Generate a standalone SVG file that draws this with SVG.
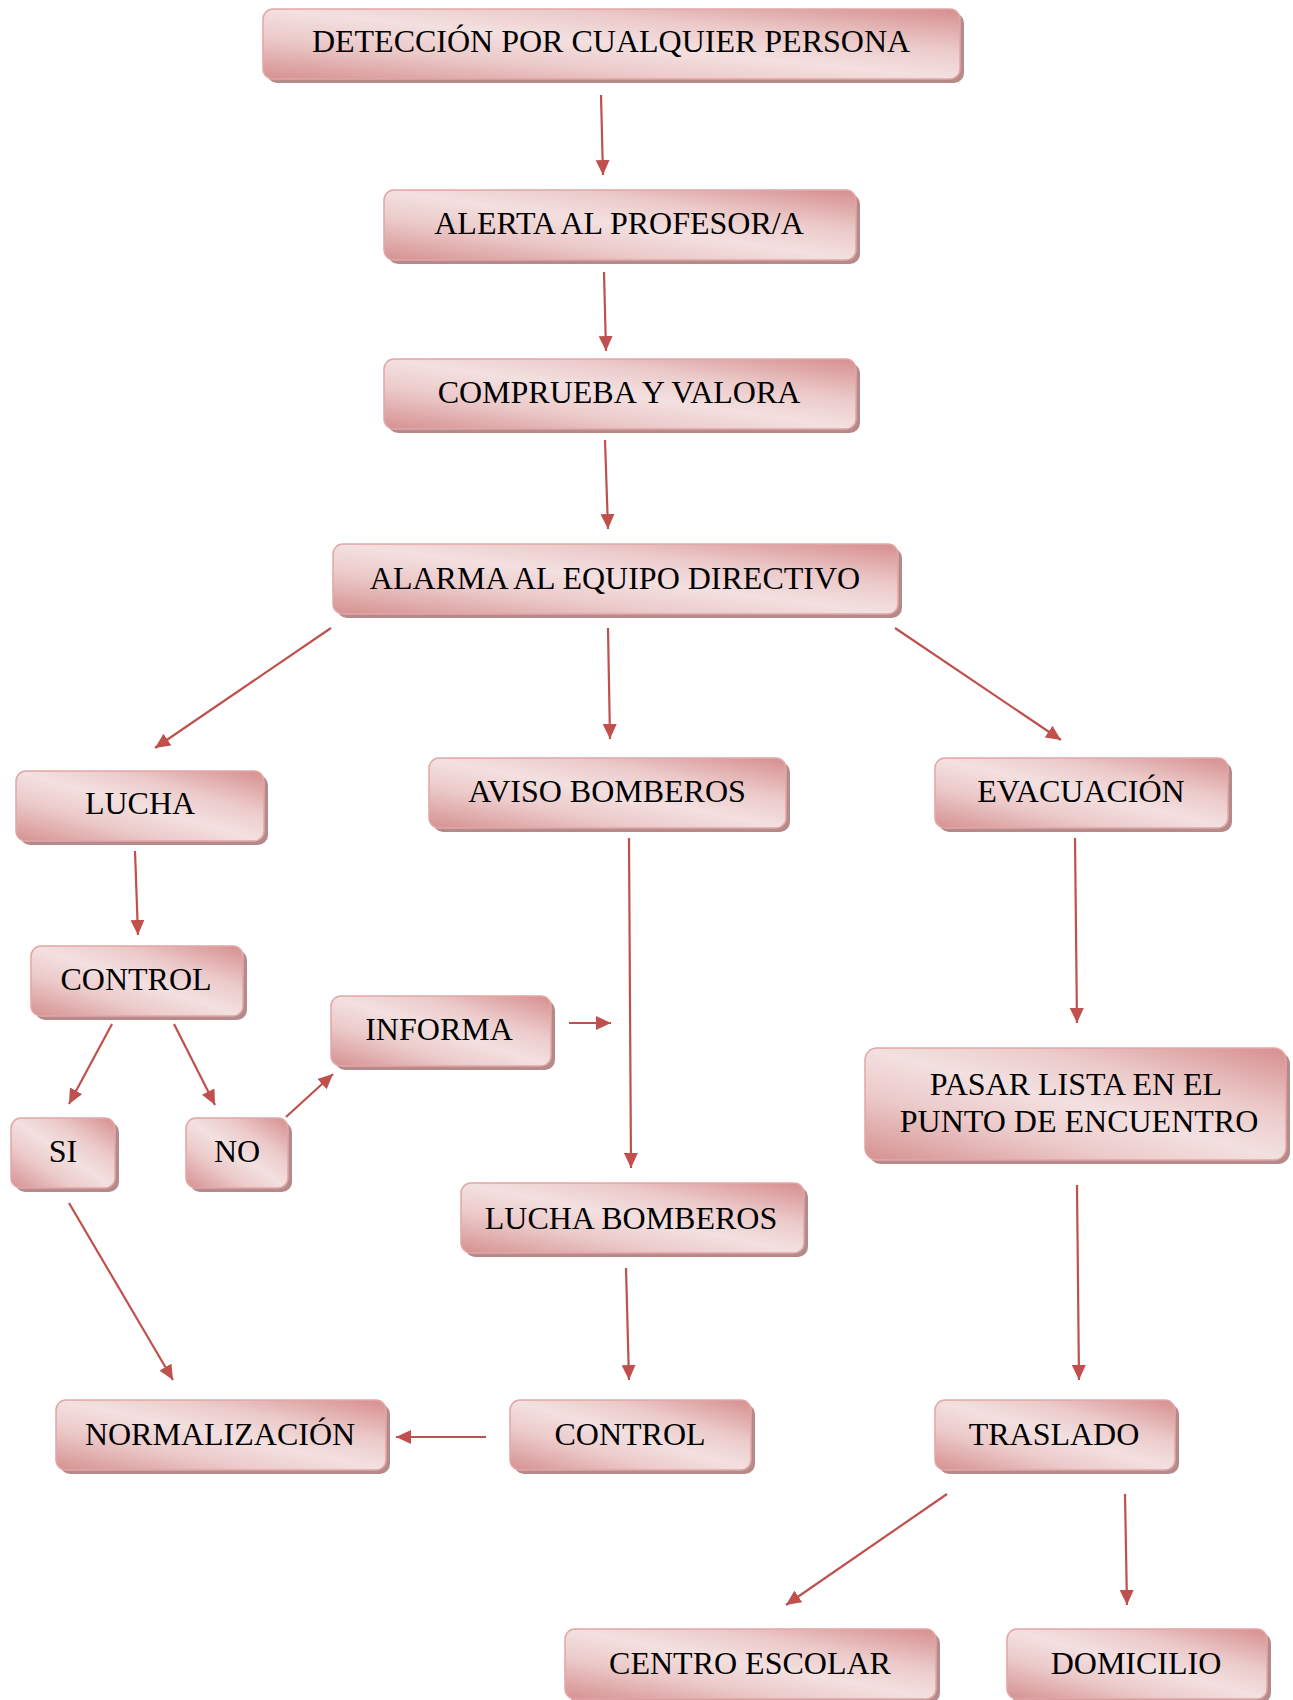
<svg xmlns="http://www.w3.org/2000/svg" width="1293" height="1700" viewBox="0 0 1293 1700">
<defs>
<linearGradient id="g" x1="0" y1="1" x2="1" y2="0">
<stop offset="0" stop-color="#d69090"/>
<stop offset="0.3" stop-color="#eccaca"/>
<stop offset="0.5" stop-color="#f3e0e0"/>
<stop offset="0.7" stop-color="#eccaca"/>
<stop offset="1" stop-color="#d68e8e"/>
</linearGradient>
<marker id="ah" markerUnits="userSpaceOnUse" markerWidth="16" markerHeight="14" refX="15" refY="7" orient="auto">
<path d="M0,0 L15,7 L0,14 Z" fill="#c0504d"/>
</marker>
<style>
.sh{fill:#b58a8a;}
.bx{fill:url(#g);stroke:#e2a6a6;stroke-width:1.5;}
.t{font-family:"Liberation Serif","Times New Roman",serif;font-size:32px;fill:#000;text-anchor:middle;}
.c line{stroke:#c0504d;stroke-width:2.2;marker-end:url(#ah);}
</style>
</defs>

<g class="c" id="connectors">
<line x1="601" y1="95" x2="603" y2="175"/>
<line x1="604" y1="272" x2="606" y2="351"/>
<line x1="605" y1="440" x2="608" y2="529"/>
<line x1="331" y1="628" x2="155" y2="748"/>
<line x1="608" y1="628" x2="610" y2="739"/>
<line x1="895" y1="628" x2="1061" y2="740"/>
<line x1="135" y1="851" x2="138" y2="935"/>
<line x1="112" y1="1024" x2="69" y2="1104"/>
<line x1="174" y1="1024" x2="215" y2="1105"/>
<line x1="286" y1="1117" x2="333" y2="1074"/>
<line x1="569" y1="1023" x2="611" y2="1023"/>
<line x1="629" y1="838" x2="631" y2="1168"/>
<line x1="69" y1="1203" x2="173" y2="1380"/>
<line x1="626" y1="1268" x2="629" y2="1380"/>
<line x1="486" y1="1437" x2="396" y2="1437"/>
<line x1="1075" y1="838" x2="1077" y2="1023"/>
<line x1="1077" y1="1185" x2="1079" y2="1380"/>
<line x1="947" y1="1494" x2="786" y2="1605"/>
<line x1="1125" y1="1494" x2="1127" y2="1605"/>
</g>

<g id="n1"><rect class="sh" x="267" y="13" width="697" height="70" rx="10"/><rect class="bx" x="263" y="9" width="697" height="70" rx="10"/><text class="t" x="611" y="52">DETECCIÓN POR CUALQUIER PERSONA</text></g>
<g id="n2"><rect class="sh" x="388" y="194" width="472" height="70" rx="10"/><rect class="bx" x="384" y="190" width="472" height="70" rx="10"/><text class="t" x="619" y="234">ALERTA AL PROFESOR/A</text></g>
<g id="n3"><rect class="sh" x="388" y="363" width="472" height="70" rx="10"/><rect class="bx" x="384" y="359" width="472" height="70" rx="10"/><text class="t" x="619" y="403">COMPRUEBA Y VALORA</text></g>
<g id="n4"><rect class="sh" x="337" y="548" width="565" height="70" rx="10"/><rect class="bx" x="333" y="544" width="565" height="70" rx="10"/><text class="t" x="615" y="589">ALARMA AL EQUIPO DIRECTIVO</text></g>
<g id="n5"><rect class="sh" x="20" y="775" width="248" height="70" rx="10"/><rect class="bx" x="16" y="771" width="248" height="70" rx="10"/><text class="t" x="140" y="814">LUCHA</text></g>
<g id="n6"><rect class="sh" x="433" y="762" width="357" height="70" rx="10"/><rect class="bx" x="429" y="758" width="357" height="70" rx="10"/><text class="t" x="607" y="802">AVISO BOMBEROS</text></g>
<g id="n7"><rect class="sh" x="939" y="762" width="293" height="70" rx="10"/><rect class="bx" x="935" y="758" width="293" height="70" rx="10"/><text class="t" x="1081" y="802">EVACUACIÓN</text></g>
<g id="n8"><rect class="sh" x="35" y="950" width="212" height="70" rx="10"/><rect class="bx" x="31" y="946" width="212" height="70" rx="10"/><text class="t" x="136" y="990">CONTROL</text></g>
<g id="n9"><rect class="sh" x="335" y="1000" width="220" height="70" rx="10"/><rect class="bx" x="331" y="996" width="220" height="70" rx="10"/><text class="t" x="439" y="1040">INFORMA</text></g>
<g id="n10"><rect class="sh" x="15" y="1122" width="104" height="70" rx="10"/><rect class="bx" x="11" y="1118" width="104" height="70" rx="10"/><text class="t" x="63" y="1162">SI</text></g>
<g id="n11"><rect class="sh" x="190" y="1122" width="102" height="70" rx="10"/><rect class="bx" x="186" y="1118" width="102" height="70" rx="10"/><text class="t" x="237" y="1162">NO</text></g>
<g id="n12"><rect class="sh" x="869" y="1052" width="421" height="112" rx="12"/><rect class="bx" x="865" y="1048" width="421" height="112" rx="12"/><text class="t" x="1076" y="1095">PASAR LISTA EN EL</text><text class="t" x="1079" y="1132">PUNTO DE ENCUENTRO</text></g>
<g id="n13"><rect class="sh" x="465" y="1187" width="343" height="70" rx="10"/><rect class="bx" x="461" y="1183" width="343" height="70" rx="10"/><text class="t" x="631" y="1229">LUCHA BOMBEROS</text></g>
<g id="n14"><rect class="sh" x="60" y="1404" width="330" height="70" rx="10"/><rect class="bx" x="56" y="1400" width="330" height="70" rx="10"/><text class="t" x="220" y="1445">NORMALIZACIÓN</text></g>
<g id="n15"><rect class="sh" x="514" y="1404" width="241" height="70" rx="10"/><rect class="bx" x="510" y="1400" width="241" height="70" rx="10"/><text class="t" x="630" y="1445">CONTROL</text></g>
<g id="n16"><rect class="sh" x="939" y="1404" width="240" height="70" rx="10"/><rect class="bx" x="935" y="1400" width="240" height="70" rx="10"/><text class="t" x="1054" y="1445">TRASLADO</text></g>
<g id="n17"><rect class="sh" x="569" y="1633" width="371" height="70" rx="10"/><rect class="bx" x="565" y="1629" width="371" height="70" rx="10"/><text class="t" x="750" y="1674">CENTRO ESCOLAR</text></g>
<g id="n18"><rect class="sh" x="1011" y="1633" width="260" height="70" rx="10"/><rect class="bx" x="1007" y="1629" width="260" height="70" rx="10"/><text class="t" x="1136" y="1674">DOMICILIO</text></g>
</svg>
